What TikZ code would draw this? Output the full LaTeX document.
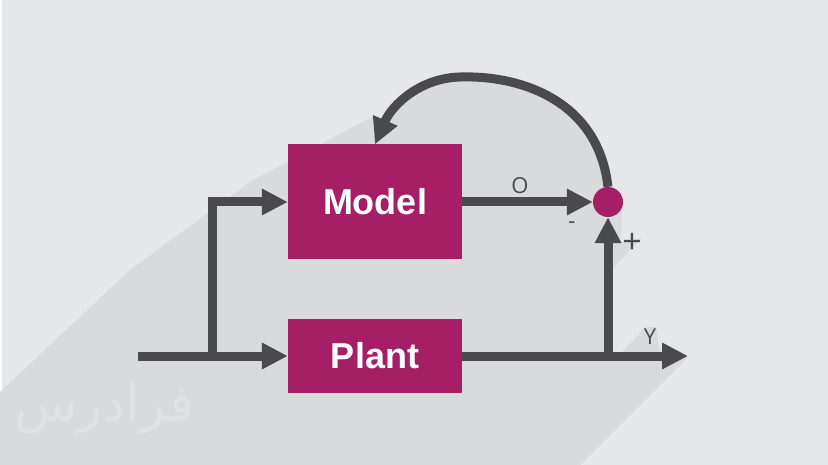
\documentclass[tikz,border=0pt]{standalone}
\usepackage{fontspec}
\setmainfont{Open Sans}
\newfontfamily\blockfont{Liberation Sans}
\newfontfamily\arabicfont[Script=Arabic]{DejaVu Sans}
\TeXXeTstate=1
\usetikzlibrary{arrows.meta}
\definecolor{bggray}{HTML}{E6E7E9}
\definecolor{shgray}{HTML}{D9DADC}
\definecolor{lngray}{HTML}{4A4A4C}
\definecolor{magenta}{HTML}{A61E66}
\definecolor{wmgray}{HTML}{E0E1E3}

\begin{document}
\begin{tikzpicture}[x=1pt, y=-1pt,
block/.style={fill=magenta, text=white, inner sep=0pt, minimum width=174pt, font=\blockfont\bfseries\fontsize{36}{40}\selectfont},
flow/.style={draw=lngray, line width=9pt, -{Triangle[length=26pt,width=25pt]}},
lbl/.style={text=lngray, inner sep=0pt, font=\fontsize{22}{24}\selectfont}
]
\useasboundingbox (0,0) rectangle (828,465);
\fill[bggray] (0,0) rectangle (828,465);
\fill[white] (0,0) rectangle (2,465);

% long shadow
\fill[shgray] (0,392) -- (130,270) -- (253,180) -- (374,116) -- (385,121)
  .. controls (395,98) and (420,78) .. (460,77)
  .. controls (520,75) and (598,100) .. (608,187)
  -- (623,203) -- (620,242) -- (642,238) -- (613,268) -- (613,352)
  -- (622,352) -- (646,327) -- (656,327) -- (660,352) -- (664,345)
  -- (688,357) -- (580,465) -- (0,465) -- cycle;

% watermark
\node[text=wmgray, font=\arabicfont\fontsize{52}{58}\selectfont] (logo) at (104,408) {\beginR فرادرس\endR};

% blocks
\node[block, minimum height=115pt] (model) at (375,202) {Model};
\node[block, minimum height=74pt] (plant) at (375,356) {Plant};
\node[circle, fill=magenta, inner sep=0pt, minimum size=30pt] (sum) at (608,202) {};

\coordinate (in) at (138,356);
\coordinate (split) at (212.5,356);
\coordinate (tap) at (608,356);
\coordinate (out) at (688,356);

% connectors
\draw[flow] (in) -- (plant);
\draw[flow] (split) |- (model);
\draw[flow] (model) -- (sum);
\draw[flow] (plant) -- (out);
\draw[flow] (tap) -- (sum);
\draw[flow] (sum.north) .. controls (598,100) and (520,75) .. (460,77)
  .. controls (420,78) and (392,105) .. (model.north);

% labels
\node[lbl] (olab) at (520,186) {O};
\node[lbl] (ylab) at (650,337) {Y};
\node[lbl] (minus) at (572,225) {-};
\node[lbl, font=\fontsize{34}{36}\selectfont] (plus) at (632,243) {+};

\end{tikzpicture}
\end{document}
